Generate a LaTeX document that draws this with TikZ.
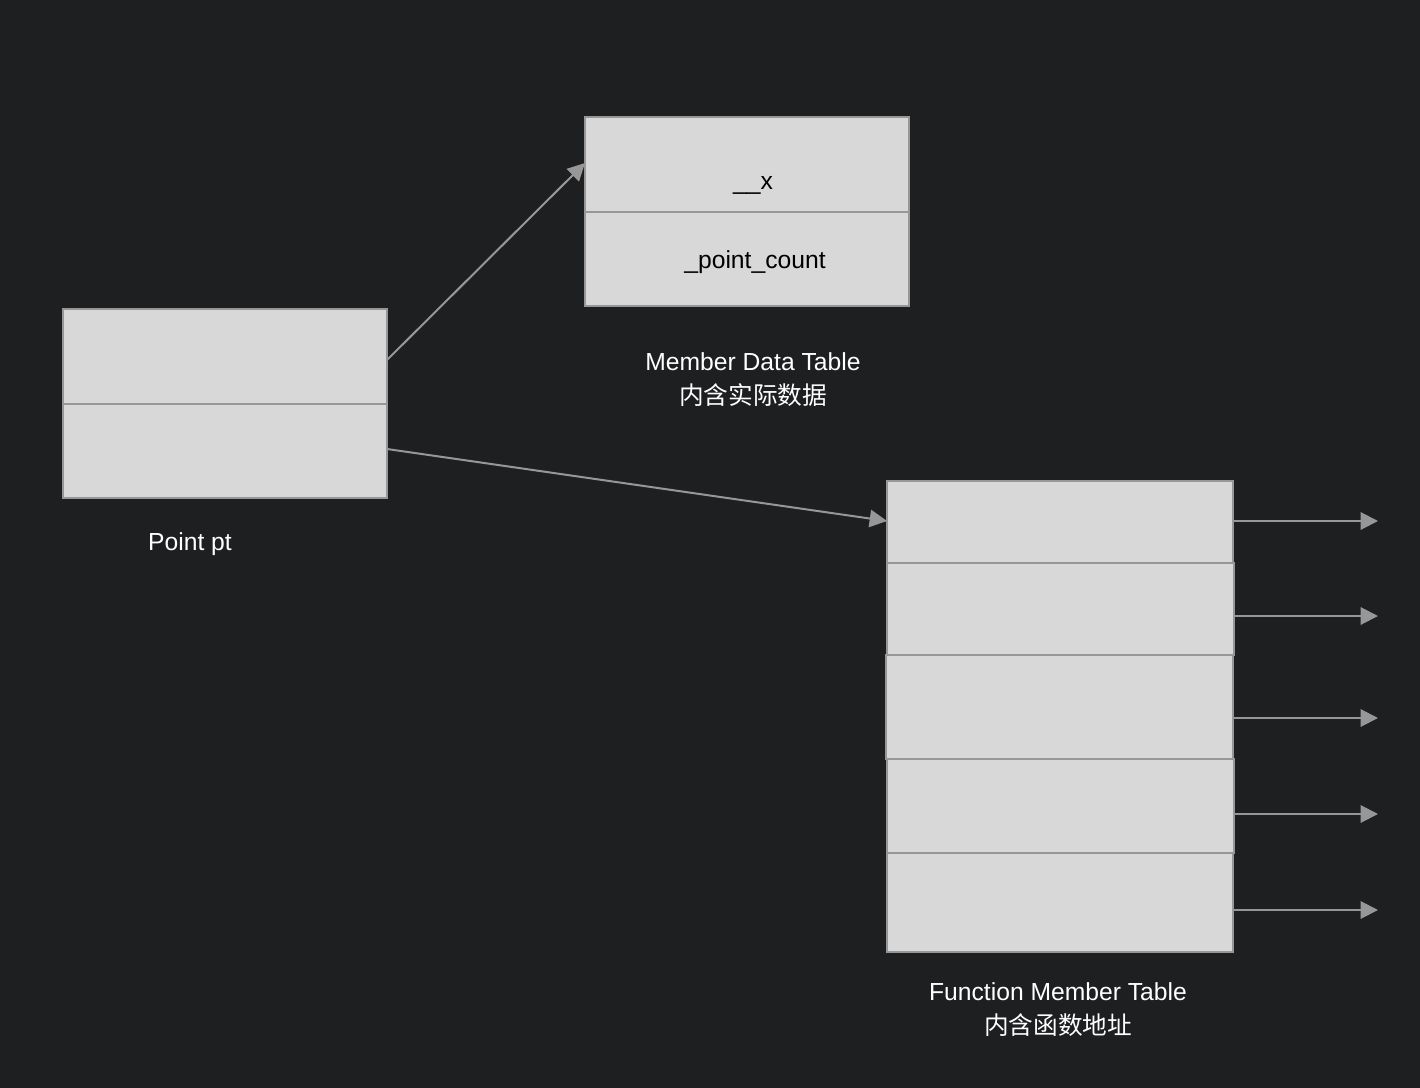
\documentclass[tikz,border=0pt]{standalone}
\usepackage{fontspec}
\setmainfont{Liberation Sans}
\newfontfamily\cjk{Noto Sans CJK SC}
\usetikzlibrary{arrows.meta}
\definecolor{bgc}{HTML}{1E1F21}
\definecolor{boxfill}{HTML}{D8D8D8}
\definecolor{boxline}{HTML}{979797}
\begin{document}
\begin{tikzpicture}[x=0.75pt,y=-0.75pt,
  cell/.style={draw=boxline,fill=boxfill,line width=1.5pt},
  conn/.style={draw=boxline,line width=1.5pt,-{Triangle[length=13pt,width=13pt]}},
  lbl/.style={text=white,font=\fontsize{18.5}{25.5}\selectfont,align=center},
  inner/.style={text=black,font=\fontsize{18.5}{22}\selectfont}]
\useasboundingbox[fill=bgc] (0,0) rectangle (1420,1088);
% Point pt
\path[cell] (63,309) rectangle (387,404);
\path[cell] (63,404) rectangle (387,498);
\coordinate (p1) at (387,360);
\coordinate (p2) at (387,449);
\node[lbl] (ptlbl) at (190,544) {Point pt};
% Member data table
\path[cell] (585,117) rectangle (909,212);
\path[cell] (585,212) rectangle (909,306);
\coordinate (md) at (585,163);
\node[inner] (x) at (753,185) {\_\_x};
\node[inner] (pc) at (755,262) {\_point\_count};
\node[lbl] (mdlbl) at (753,380) {Member Data Table\\{\cjk 内含实际数据}};
% Function member table
\path[cell] (887,481) rectangle (1233,563);
\path[cell] (887,563) rectangle (1234,655);
\path[cell] (886,655) rectangle (1233,759);
\path[cell] (887,759) rectangle (1234,853);
\path[cell] (887,853) rectangle (1233,952);
\coordinate (fm) at (887,521);
\node[lbl] (fmlbl) at (1058,1010) {Function Member Table\\{\cjk 内含函数地址}};
% connectors
\draw[conn] (p1) -- (md);
\draw[conn] (p2) -- (fm);
\foreach \y/\n in {521/a,616/b,718/c,814/d,910/e}{
  \coordinate (s\n) at (1233,\y);
  \coordinate (t\n) at (1378,\y);
  \draw[conn] (s\n) -- (t\n);
}
\end{tikzpicture}
\end{document}
